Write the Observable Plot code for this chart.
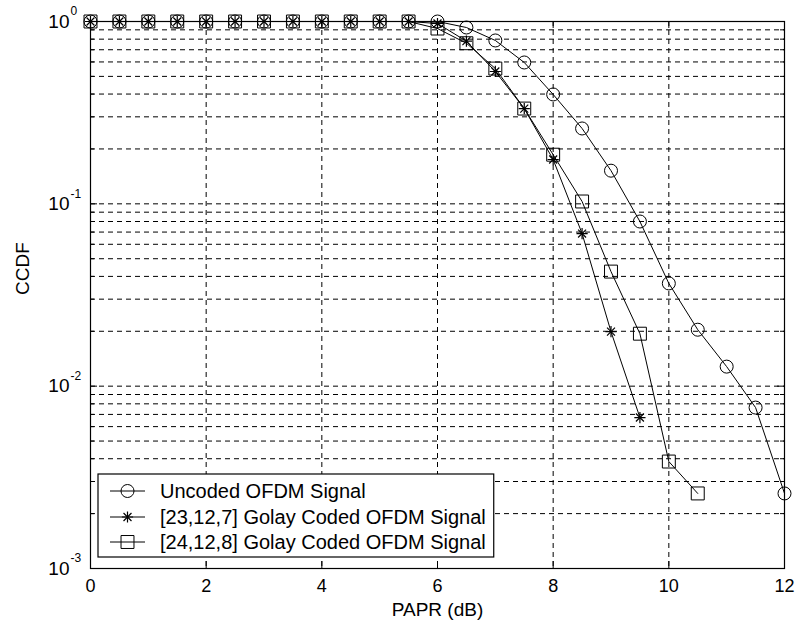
<!DOCTYPE html>
<html><head><meta charset="utf-8">
<script src="https://cdn.jsdelivr.net/npm/d3@7"></script>
<script src="https://cdn.jsdelivr.net/npm/@observablehq/plot@0.6"></script>
<style>body{margin:0;background:#fff;} svg{display:block}</style>
</head><body><div id="chart"></div>
<script>
// ---- data ----
const papr = [0,0.5,1,1.5,2,2.5,3,3.5,4,4.5,5,5.5,6,6.5,7,7.5,8,8.5,9,9.5,10,10.5,11,11.5,12];
const uncoded = [1,1,1,1,1,1,1,1,1,1,1,1,1.0,0.927,0.787,0.596,0.398,0.259,0.152,0.080,0.0366,0.0204,0.0128,0.00763,0.00258];
const golay23 = [1,1,1,1,1,1,1,1,1,1,1,1,0.975,0.78,0.532,0.333,0.175,0.0687,0.0199,0.00673];
const golay24 = [1,1,1,1,1,1,1,1,1,1,1,1,0.915,0.76,0.552,0.333,0.186,0.103,0.0425,0.0194,0.00386,0.00258];
const seriesNames = ["Uncoded OFDM Signal","[23,12,7] Golay Coded OFDM Signal","[24,12,8] Golay Coded OFDM Signal"];
const xTicks = [0,2,4,6,8,10,12];
const decades = [1e-3,1e-2,1e-1,1];
const xLabel = "PAPR (dB)";
const yLabel = "CCDF";

const W = 796, H = 633, mL = 90, mR = 12, mT = 21, mB = 65;
const plotW = W - mL - mR, plotH = H - mT - mB;

const yGrid = [];
for (const d of decades.slice(0, 3)) for (let k = 1; k <= 9; k++) yGrid.push(k * d);
yGrid.push(1);
const yMinor = yGrid.filter(v => !decades.some(d => Math.abs(v - d) < d * 1e-9));

const rows = (vals) => vals.map((y, i) => ({x: papr[i], y}));
const rU = rows(uncoded), r23 = rows(golay23), r24 = rows(golay24);

const dash = {stroke: "#000", strokeWidth: 1, strokeDasharray: "5,4"};
const font = "'Liberation Sans', Arial, Helvetica, sans-serif";

const chart = Plot.plot({
  width: W, height: H,
  marginLeft: mL, marginRight: mR, marginTop: mT, marginBottom: mB,
  style: {fontFamily: font, fontSize: "19px", color: "#000", background: "#fff"},
  x: {domain: [0, 12], axis: null},
  y: {type: "log", domain: [1e-3, 1], axis: null},
  marks: [
    Plot.ruleY(yGrid.filter(v => v > 1e-3 && v < 1), {y: d => d, ...dash}),
    Plot.ruleX(xTicks.filter(v => v > 0 && v < 12), {x: d => d, ...dash}),
    // inward ticks
    Plot.tickX(xTicks, {x: d => d, insetTop: plotH - 7, stroke: "#000"}),
    Plot.tickX(xTicks, {x: d => d, insetBottom: plotH - 7, stroke: "#000"}),
    Plot.tickY(decades, {y: d => d, insetRight: plotW - 7, stroke: "#000"}),
    Plot.tickY(decades, {y: d => d, insetLeft: plotW - 7, stroke: "#000"}),
    Plot.tickY(yMinor, {y: d => d, insetRight: plotW - 4, stroke: "#000"}),
    Plot.tickY(yMinor, {y: d => d, insetLeft: plotW - 4, stroke: "#000"}),
    Plot.frame({stroke: "#000", strokeWidth: 1.2}),
    // series
    Plot.line(rU, {x: "x", y: "y", stroke: "#000", strokeWidth: 1}),
    Plot.line(r23, {x: "x", y: "y", stroke: "#000", strokeWidth: 1}),
    Plot.line(r24, {x: "x", y: "y", stroke: "#000", strokeWidth: 1}),
    Plot.dot(rU, {x: "x", y: "y", symbol: "circle", r: 6.5, stroke: "#000", fill: "none", strokeWidth: 1}),
    Plot.dot(r23, {x: "x", y: "y", symbol: "plus", r: 3.7, stroke: "#000", strokeWidth: 1.2}),
    Plot.dot(r23, {x: "x", y: "y", symbol: "times", r: 3.7, stroke: "#000", strokeWidth: 1.2}),
    Plot.dot(r24, {x: "x", y: "y", symbol: "square", r: 7.3, stroke: "#000", fill: "none", strokeWidth: 1}),
    // tick labels
    Plot.text(xTicks, {x: d => d, y: 1e-3, text: d => String(d), dy: 18, fill: "#000", fontSize: 18}),
    Plot.text(decades, {x: 0, y: d => d, text: () => "10", textAnchor: "end", dx: -21, fill: "#000", fontSize: 19}),
    Plot.text(decades, {x: 0, y: d => d, text: d => String(Math.round(Math.log10(d))), textAnchor: "start", dx: -20, dy: -10, fill: "#000", fontSize: 12}),
    Plot.text([xLabel], {frameAnchor: "bottom", text: d => d, dy: 47, fill: "#000", fontSize: 19}),
    Plot.text([yLabel], {frameAnchor: "left", text: d => d, dx: -68, rotate: -90, fill: "#000", fontSize: 19})
  ]
});
document.getElementById("chart").appendChild(chart);

// ---- legend (inside the plot, lower left) ----
const svg = d3.select(chart);
const lg = svg.append("g").attr("text-anchor", "start");
const box = lg.append("rect").attr("x", 98).attr("y", 474).attr("height", 83)
  .attr("fill", "#fff").attr("stroke", "#000").attr("stroke-width", 1.2);
const rowY = [491, 517, 542];
const symU = d3.symbol(d3.symbolCircle, Math.PI * 6.5 * 6.5)();
const symP = d3.symbol(d3.symbolPlus, Math.PI * 3.7 * 3.7)();
const symT = d3.symbol(d3.symbolTimes, Math.PI * 3.7 * 3.7)();
const symS = d3.symbol(d3.symbolSquare, Math.PI * 7.3 * 7.3)();
let maxEnd = 0;
seriesNames.forEach((name, i) => {
  const y = rowY[i];
  lg.append("line").attr("x1", 110).attr("x2", 145).attr("y1", y).attr("y2", y).attr("stroke", "#000");
  const paths = i === 0 ? [symU] : i === 1 ? [symP, symT] : [symS];
  paths.forEach(p => lg.append("path").attr("d", p).attr("transform", `translate(127.5,${y})`)
    .attr("fill", "none").attr("stroke", "#000").attr("stroke-width", i === 1 ? 1.2 : 1));
  const t = lg.append("text").attr("x", 160).attr("y", y).attr("dy", "0.35em")
    .attr("text-anchor", "start")
    .attr("font-family", font).attr("font-size", 20).attr("fill", "#000").text(name);
  maxEnd = Math.max(maxEnd, 160 + t.node().getComputedTextLength());
});
box.attr("width", maxEnd + 8 - 98);
</script>
</body></html>
